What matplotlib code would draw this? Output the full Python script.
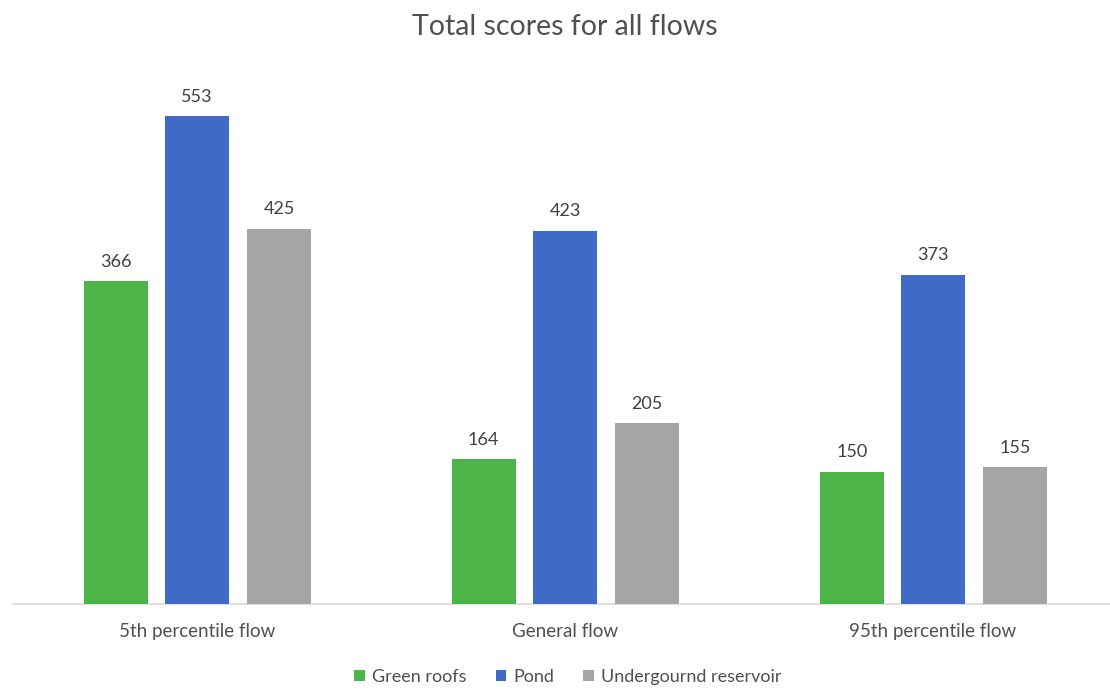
import matplotlib
matplotlib.use("Agg")
import matplotlib.pyplot as plt
import numpy as np
from matplotlib.patches import Patch

categories = ["5th percentile flow", "General flow", "95th percentile flow"]
series_names = ["Green roofs", "Pond", "Undergournd reservoir"]
green_roofs = [366, 164, 150]
pond = [553, 423, 373]
reservoir = [425, 205, 155]
colors = ["#4DB548", "#3F6AC6", "#A5A5A5"]

plt.rcParams["font.family"] = ["Lato", "DejaVu Sans"]
text_color = "#505050"

fig = plt.figure(figsize=(11.10, 6.91), dpi=100)
W, H = 1110, 691
left, right = 13, 1117
bottom_px, top_px = 604, 74.5
ax = fig.add_axes([left / W, 1 - bottom_px / H, (right - left) / W, (bottom_px - top_px) / H])

x = np.arange(len(categories))
bar_w = 0.174
offsets = [-0.221, 0.0, 0.223]
for vals, off, col, name in zip([green_roofs, pond, reservoir], offsets, colors, series_names):
    bars = ax.bar(x + off, vals, width=bar_w, color=col, label=name, zorder=3)
    for b, v in zip(bars, vals):
        ax.text(b.get_x() + b.get_width() / 2, v + 13, str(v), ha="center", va="bottom",
                fontsize=13, color="#404040")

ax.set_xlim(-0.5, 2.5)
ax.set_ylim(0, 600)
ax.set_yticks([])
ax.set_xticks(x)
ax.set_xticklabels(categories, fontsize=13.5, color=text_color)
ax.tick_params(axis="x", length=0, pad=14)
for s in ["top", "right", "left"]:
    ax.spines[s].set_visible(False)
ax.spines["bottom"].set_color("#D9D9D9")
ax.spines["bottom"].set_linewidth(1.2)

fig.text(565 / W, 1 - 27 / H, "Total scores for all flows", ha="center", va="center",
         fontsize=20.5, color=text_color)

handles = [Patch(facecolor=c, edgecolor="none") for c in colors]
fig.legend(handles, series_names, loc="center", bbox_to_anchor=(568 / W, 1 - 677 / H),
           ncol=3, frameon=False, fontsize=13, handlelength=0.6, handleheight=0.6,
           handletextpad=0.4, columnspacing=1.6, labelcolor=text_color)

fig.savefig("out.png", dpi=100)
